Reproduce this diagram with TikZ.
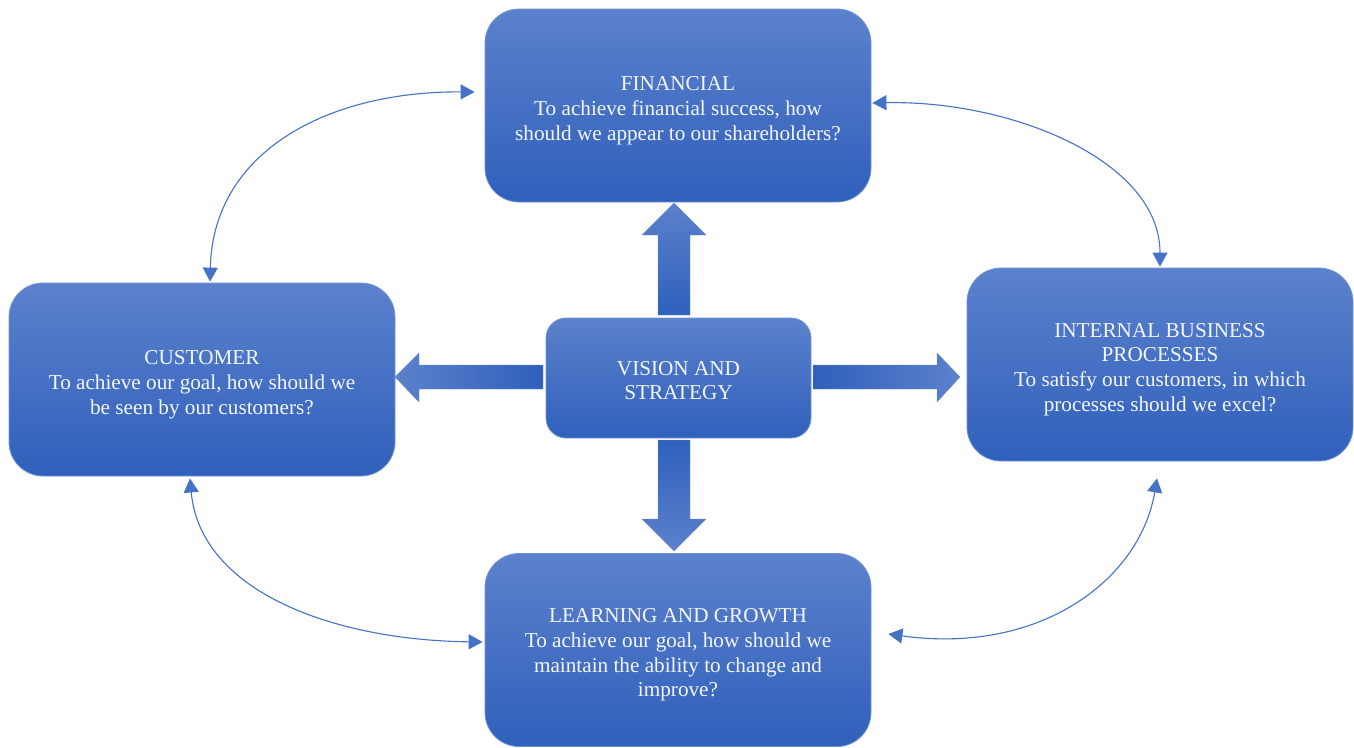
\documentclass[tikz,border=0pt]{standalone}
\usepackage{fontspec}
\setmainfont{Liberation Serif}
\usetikzlibrary{arrows.meta,calc}
\definecolor{lightb}{HTML}{5C81CC}
\definecolor{darkb}{HTML}{2F60BB}
\definecolor{edgeb}{HTML}{7394D4}
\definecolor{lineb}{HTML}{4472C4}
\definecolor{txt}{HTML}{F4F6FB}
\newcommand{\dropA}{\rule{0pt}{24pt}}
\newcommand{\dropB}{\rule{0pt}{19pt}}
\tikzset{
  box/.style={draw=edgeb, line width=0.8pt, rounded corners=34pt, top color=lightb, bottom color=darkb,
    minimum width=386pt, minimum height=193pt, align=center, text=txt,
    font=\fontsize{21.2}{24.8}\selectfont, inner sep=0pt},
  centerbox/.style={box, rounded corners=20pt, minimum width=265pt, minimum height=120pt},
  link/.style={lineb, line width=1.1pt, {Triangle[length=14pt,width=15pt]}-{Triangle[length=14pt,width=15pt]}},
  blockarrow/.style={draw=edgeb, line width=0.4pt}
}
\begin{document}
\begin{tikzpicture}[x=1pt,y=-1pt]
\useasboundingbox (0,0) rectangle (1354,747);
\node[box] (fin) at (678,105.5) {\dropA FINANCIAL\\To achieve financial success, how\\should we appear to our shareholders?};
\node[box] (cus) at (202,379.5) {\dropA CUSTOMER\\To achieve our goal, how should we\\be seen by our customers?};
\node[box] (ibp) at (1160,364.5) {\dropA INTERNAL BUSINESS\\PROCESSES\\To satisfy our customers, in which\\processes should we excel?};
\node[box] (lg) at (678,650) {\dropA LEARNING AND GROWTH\\To achieve our goal, how should we\\maintain the ability to change and\\improve?};
\node[centerbox] (vis) at (678.5,378) {\dropB VISION AND\\STRATEGY};
% block arrows
\path[blockarrow, top color=lightb, bottom color=darkb]
  (658,315) -- (658,235) -- (642,235) -- (674,203) -- (706,235) -- (690,235) -- (690,315) -- cycle;
\path[blockarrow, top color=darkb, bottom color=lightb]
  (658,440) -- (658,519) -- (642,519) -- (674,551) -- (706,519) -- (690,519) -- (690,440) -- cycle;
\path[blockarrow, left color=lightb, right color=darkb]
  (543,365) -- (419,365) -- (419,353) -- (395,377) -- (419,402) -- (419,389) -- (543,389) -- cycle;
\path[blockarrow, left color=darkb, right color=lightb]
  (813,365) -- (937,365) -- (937,353) -- (960,377) -- (937,402) -- (937,389) -- (813,389) -- cycle;
% curved links
\draw[link] ($(cus.north)+(8,-1)$) .. controls (213,150) and (330,91) .. ($(fin.west)+(-10,-13.5)$);
\draw[link] ($(fin.east)+(1,-2.5)$) .. controls (1010,100) and (1160,160) .. ($(ibp.north)+(0,-1)$);
\draw[link] ($(cus.south)+(-12,2)$) .. controls (200,590) and (330,640) .. ($(lg.west)+(-2,-8)$);
\draw[link] ($(lg.east)+(17,-16)$) .. controls (1040,655) and (1140,580) .. ($(ibp.south)+(-3,17)$);
\end{tikzpicture}
\end{document}
